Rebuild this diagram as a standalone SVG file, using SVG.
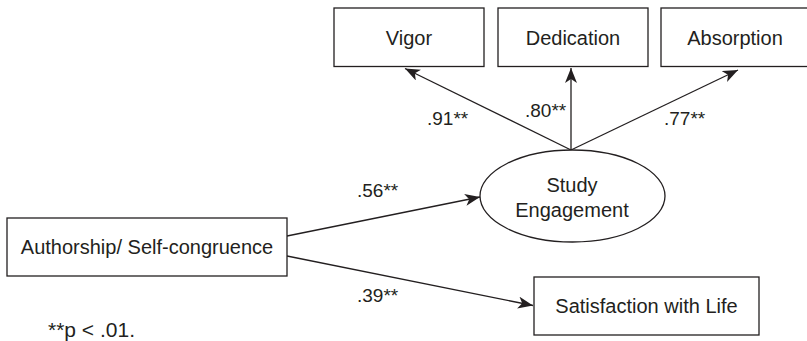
<svg xmlns="http://www.w3.org/2000/svg" width="807" height="341" viewBox="0 0 807 341">
<style>
.box{fill:#fff;stroke:#231f20;stroke-width:1.3}
.lbl{font-family:"Liberation Sans",Arial,sans-serif;font-size:20px;fill:#231f20;text-anchor:middle}
.coef{font-family:"Liberation Sans",Arial,sans-serif;font-size:19px;fill:#231f20}
.edge{fill:none;stroke:#231f20;stroke-width:1.3;marker-end:url(#ah)}
</style>
<defs>
<marker id="ah" markerUnits="userSpaceOnUse" markerWidth="16" markerHeight="13" refX="15" refY="6" orient="auto">
<path d="M0,0 L15,6 L0,12 L4,6 Z" fill="#231f20"/>
</marker>
</defs>
<rect width="807" height="341" fill="#fff"/>
<g id="connectors">
<line class="edge" x1="571" y1="150" x2="405" y2="68.5"/>
<line class="edge" x1="571" y1="150" x2="571" y2="68"/>
<line class="edge" x1="571" y1="150" x2="738" y2="70"/>
<line class="edge" x1="287" y1="236" x2="480" y2="197"/>
<line class="edge" x1="287" y1="256" x2="533" y2="305.5"/>
</g>
<g id="labels">
<text class="coef" x="427" y="125">.91**</text>
<text class="coef" x="525" y="117">.80**</text>
<text class="coef" x="664" y="125">.77**</text>
<text class="coef" x="357" y="197">.56**</text>
<text class="coef" x="357" y="302">.39**</text>
<text class="coef" x="48" y="337" style="font-size:21px">**p &lt; .01.</text>
</g>
<g id="vigor">
<rect class="box" x="334" y="8" width="150" height="58.5"/>
<text class="lbl" x="409" y="44.5">Vigor</text>
</g>
<g id="dedication">
<rect class="box" x="498" y="8" width="150" height="58.5"/>
<text class="lbl" x="573" y="44.5">Dedication</text>
</g>
<g id="absorption">
<rect class="box" x="661" y="8" width="150" height="58.5"/>
<text class="lbl" x="735" y="44.5">Absorption</text>
</g>
<g id="study-engagement">
<ellipse class="box" cx="572.5" cy="196" rx="92.5" ry="46"/>
<text class="lbl" x="572" y="191.5">Study</text>
<text class="lbl" x="572" y="217">Engagement</text>
</g>
<g id="authorship">
<rect class="box" x="7" y="218" width="280" height="58"/>
<text class="lbl" x="147" y="254">Authorship/ Self-congruence</text>
</g>
<g id="satisfaction">
<rect class="box" x="534" y="277" width="225" height="58"/>
<text class="lbl" x="646.5" y="313">Satisfaction with Life</text>
</g>
</svg>
